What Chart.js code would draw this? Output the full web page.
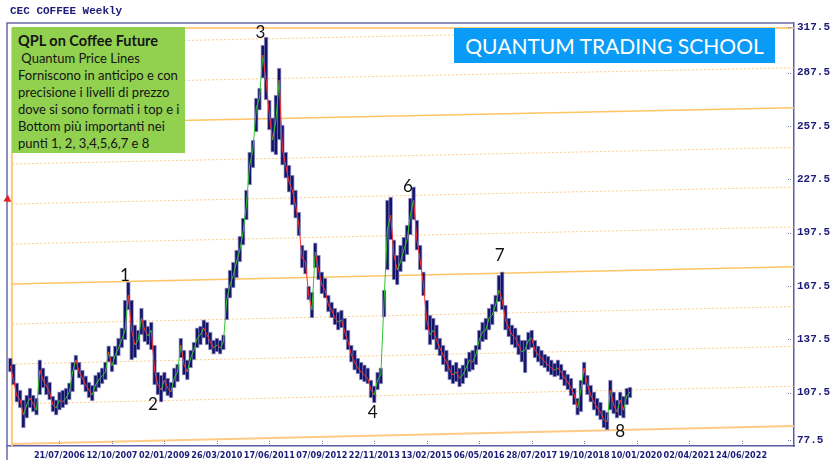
<!DOCTYPE html>
<html>
<head>
<meta charset="utf-8">
<script src="https://cdn.jsdelivr.net/npm/chart.js@4.4.1/dist/chart.umd.min.js"></script>
<style>
  html, body { margin:0; padding:0; background:#fff; }
  #wrap { position:relative; width:835px; height:465px; overflow:hidden; }
  #c { position:absolute; left:0; top:0; }
  .title { position:absolute; left:10px; top:5px; font:bold 11px "Liberation Mono", monospace; color:#1c1c78; white-space:pre; }
  .green { position:absolute; left:12px; top:27px; width:173px; height:126px; background:#92D050; box-sizing:border-box; padding:5px 0 0 6px; font:13px Lato, "Open Sans", sans-serif; line-height:17px; color:#151515; white-space:pre; }
  .green b { font-size:14.5px; }
  .blue { position:absolute; left:454px; top:28px; width:321px; height:35px; background:#0A9BF7; color:#fff; font:21px Lato, "Open Sans", sans-serif; line-height:35px; text-align:center; }
  .arrow { position:absolute; left:5px; top:196px; width:0; height:0; border-top:4px solid transparent; border-bottom:4px solid transparent; border-left:7px solid #e02020; transform:rotate(35deg); }
</style>
</head>
<body>
<div id="wrap">
  <canvas id="c" width="835" height="465"></canvas>
  <div class="title">CEC COFFEE Weekly</div>
  <div class="green"><b>QPL on Coffee Future</b>
 Quantum Price Lines
Forniscono in anticipo e con
precisione i livelli di prezzo
dove si sono formati i top e i
Bottom più importanti nei
punti 1, 2, 3,4,5,6,7 e 8</div>
  <div class="blue">QUANTUM TRADING SCHOOL</div>
  <div class="arrow"></div>
</div>
<script>
// x axis: weeks counted from 21/07/2006, tick labels every 64 weeks
const xTickLabels = ["21/07/2006","12/10/2007","02/01/2009","26/03/2010","17/06/2011","07/09/2012","22/11/2013","13/02/2015","06/05/2016","28/07/2017","19/10/2018","10/01/2020","02/04/2021","24/06/2022"];
const yTickValues = [77.5,107.5,137.5,167.5,197.5,227.5,257.5,287.5,317.5];
const firstWeek = -60;   // first bar (May 2005)
const weekStep = 4;      // one bar every 4 weeks

const closePrices = [122.5,114.6,105.6,103.4,94.9,100.6,104.5,101.1,97.7,120.2,
114.6,111.3,107.9,100.6,98.9,103.4,102.2,104.5,107.9,119.1,
125.9,119.1,115.7,111.8,109.0,106.2,111.8,114.6,116.9,119.1,
130.4,122.5,128.7,132.6,137.1,142.7,162.4,142.7,134.3,137.1,
149.5,142.7,139.4,142.7,120.2,111.8,109.0,114.6,110.1,107.9,
115.7,119.1,134.3,123.1,119.1,127.0,131.5,138.2,140.0,143.9,
140.0,136.0,132.6,134.3,132.6,136.0,159.6,168.1,173.6,181.0,
187.7,197.8,213.0,235.5,244.0,267.6,273.2,297.4,283.3,263.7,
249.6,260.8,283.3,244.0,235.5,226.0,221.5,213.0,201.8,183.2,
181.0,162.4,154.0,186.6,176.5,168.1,165.2,156.8,154.0,149.5,
147.2,148.4,141.6,136.0,128.7,124.7,121.4,119.1,117.4,115.7,
109.0,106.2,114.6,117.4,159.6,199.0,207.4,184.9,176.5,181.0,
187.7,193.4,207.4,215.8,193.4,182.1,168.1,148.4,140.0,142.7,
137.1,132.6,128.7,124.7,120.2,117.4,119.1,115.7,117.4,121.4,
125.9,124.7,128.7,137.1,141.6,142.7,149.5,151.2,156.8,165.2,
159.6,148.4,143.9,140.0,138.2,134.3,130.4,131.5,137.1,138.2,
131.5,128.7,127.0,124.7,123.1,121.4,120.2,121.4,119.1,115.7,
113.5,110.1,106.2,98.9,109.0,121.4,111.8,106.2,102.2,98.9,
96.6,92.1,91.0,109.0,100.6,96.6,103.4,97.7,105.6,107.9];

const highPrices = [127.0,123.6,113.0,109.0,103.4,106.2,110.1,106.2,104.5,125.9,
121.4,116.9,113.5,105.6,103.4,107.9,109.0,110.1,113.0,124.7,
128.7,124.7,120.2,116.9,113.5,111.8,117.4,119.1,121.4,124.7,
133.8,128.1,133.8,138.2,143.9,159.6,169.7,159.6,145.6,142.7,
155.1,148.4,145.0,147.2,134.3,119.1,117.4,119.1,115.7,113.5,
121.4,123.6,138.2,131.5,125.9,131.5,136.0,143.9,145.0,148.4,
147.2,141.6,137.1,138.2,137.1,140.0,166.4,176.5,181.0,187.7,
195.6,205.7,221.5,242.8,249.6,273.2,278.8,303.0,307.5,272.1,
262.0,274.9,290.1,258.0,242.8,235.5,229.9,221.5,209.1,190.5,
187.7,167.5,164.1,191.7,184.9,175.4,172.0,162.4,158.5,155.1,
152.9,154.0,149.5,142.7,134.3,131.5,127.0,124.7,123.1,121.4,
114.6,111.3,119.1,121.4,165.2,215.8,217.5,193.4,184.9,190.5,
195.0,201.8,217.0,223.2,204.6,190.5,175.4,159.6,151.2,149.5,
145.6,138.2,134.3,131.5,125.9,123.1,124.7,121.4,123.1,127.0,
130.4,131.5,134.3,142.7,147.2,149.5,155.1,157.4,162.4,173.6,
175.4,156.8,149.5,145.6,143.9,140.0,137.1,137.1,141.6,142.7,
137.1,133.8,131.5,129.2,128.1,125.9,124.2,125.9,123.6,120.2,
118.0,115.7,110.1,104.5,114.6,124.7,117.4,111.8,107.9,104.5,
102.2,97.7,96.6,114.6,107.9,103.4,107.9,105.6,110.1,110.7];

const lowPrices = [119.1,111.8,102.2,98.9,87.6,93.2,98.9,96.6,94.9,106.2,
110.1,106.2,103.4,96.6,94.9,97.7,98.9,100.6,103.4,107.9,
120.2,115.7,111.8,107.9,104.5,102.8,107.9,110.1,112.4,114.6,
124.7,119.1,123.1,128.1,132.6,137.1,154.0,125.9,127.0,131.5,
140.0,136.0,134.3,131.5,111.8,106.2,102.2,107.9,105.6,104.5,
110.1,113.5,127.0,117.4,114.6,121.4,125.9,132.6,134.3,138.2,
134.3,131.5,129.2,130.4,129.2,131.5,148.4,160.7,166.4,172.0,
181.0,190.5,204.6,224.3,233.9,254.1,266.4,284.4,272.1,255.2,
242.8,241.2,249.6,235.5,228.2,220.3,213.0,205.7,195.6,177.6,
174.2,159.6,149.5,177.6,170.9,163.0,160.7,152.9,149.5,145.6,
142.7,143.9,137.1,131.5,124.7,120.2,118.0,114.6,113.5,112.4,
104.5,101.7,109.0,112.4,150.0,176.5,193.4,170.9,168.1,175.4,
181.0,184.9,196.2,204.6,187.7,176.5,161.9,142.7,134.3,137.1,
131.5,128.1,123.1,119.1,114.6,112.4,113.5,110.7,112.4,115.7,
119.1,120.2,123.1,131.5,136.0,137.1,142.7,145.6,152.9,158.5,
154.0,142.7,138.8,134.3,132.6,128.7,124.7,118.6,131.5,132.6,
127.0,124.7,122.5,121.4,119.1,117.4,116.3,116.9,114.6,111.3,
109.0,105.6,100.6,94.9,96.6,111.8,106.2,102.2,97.7,94.4,
92.1,87.6,86.5,97.7,95.5,93.2,94.4,93.2,100.6,104.5];

// Quantum Price Lines: level at start week and at end week
const qplStartWeek = -58;
const qplEndWeek = 896;
const qplStart = [78.6,101.1,123.6,146.1,168.6,191.1,213.6,236.1,258.6,281.1,303.6];
const qplEnd   = [88.7,111.1,133.5,155.9,178.3,200.7,223.1,245.4,267.8,290.2,312.6];
const qplSolid = [true,false,false,false,true,false,false,false,true,false,false];
const qplTopLevel = 312.6;

// point annotations
const annLabels = ["1","2","3","4","6","7","8"];
const annWeeks  = [80,114,245,382,425,537,684];
const annPrices = [173.6,101.1,309.8,96.6,223.7,184.9,85.4];

const weeks = closePrices.map((_, i) => firstWeek + i * weekStep);
const barData = weeks.map((w, i) => ({x: w, y: [lowPrices[i], highPrices[i]]}));
const closeData = weeks.map((w, i) => ({x: w, y: closePrices[i]}));

const datasets = [];
qplStart.forEach((s, k) => {
  datasets.push({
    type: 'line',
    data: [{x: qplStartWeek, y: s}, {x: qplEndWeek, y: qplEnd[k]}],
    borderColor: k === 0 ? 'rgba(255,196,120,0.9)' : (qplSolid[k] ? '#FFC466' : 'rgba(255,196,120,0.9)'),
    borderWidth: k === 0 ? 2 : (qplSolid[k] ? 1.5 : 1),
    borderDash: qplSolid[k] ? [] : [2, 2],
    pointRadius: 0, order: 10
  });
});
datasets.push({
  type: 'line',
  data: [{x: qplStartWeek, y: qplTopLevel}, {x: qplEndWeek, y: qplTopLevel}],
  borderColor: '#FFBF55', borderWidth: 1.5, pointRadius: 0, order: 10
});
datasets.push({
  type: 'line',
  data: [{x: qplStartWeek, y: 77.5}, {x: qplStartWeek, y: qplTopLevel}],
  borderColor: '#FFCB7A', borderWidth: 2, pointRadius: 0, order: 10
});
datasets.push({
  type: 'bar',
  data: barData,
  backgroundColor: '#14146a',
  borderColor: 'rgba(100,100,170,0.6)',
  borderWidth: 1,
  borderSkipped: false,
  barThickness: 4,
  order: 2
});
datasets.push({
  type: 'line',
  data: closeData,
  borderWidth: 1,
  pointRadius: 0,
  segment: {
    borderColor: ctx => ctx.p1.parsed.y >= ctx.p0.parsed.y ? '#2ec52e' : '#ff3030'
  },
  order: 1
});

const framePlugin = {
  id: 'frame',
  afterDraw(chart) {
    const {ctx, chartArea: a, scales} = chart;
    ctx.save();
    ctx.strokeStyle = '#6a6aa6';
    ctx.lineWidth = 1.5;
    ctx.beginPath();
    ctx.moveTo(a.left, a.bottom + 14);
    ctx.lineTo(a.left, a.top);
    ctx.lineTo(a.right, a.top);
    ctx.stroke();
    // small dotted tick marks inside the frame
    ctx.fillStyle = '#7a7ab0';
    scales.x.ticks.forEach(t => {
      const px = Math.round(scales.x.getPixelForValue(t.value));
      ctx.fillRect(px, a.bottom - 5, 1, 1);
      ctx.fillRect(px, a.bottom - 3, 1, 1);
    });
    scales.y.ticks.forEach(t => {
      const py = Math.round(scales.y.getPixelForValue(t.value));
      ctx.fillRect(a.right - 6, py, 1, 1);
      ctx.fillRect(a.right - 4, py, 1, 1);
    });
    ctx.restore();
  }
};

const annPlugin = {
  id: 'ann',
  afterDatasetsDraw(chart) {
    const {ctx, scales} = chart;
    ctx.save();
    ctx.fillStyle = '#111';
    ctx.font = '17px Lato, "Open Sans", sans-serif';
    ctx.textAlign = 'center';
    ctx.textBaseline = 'middle';
    annLabels.forEach((t, i) => {
      ctx.fillText(t, scales.x.getPixelForValue(annWeeks[i]), scales.y.getPixelForValue(annPrices[i]));
    });
    ctx.restore();
  }
};

new Chart(document.getElementById('c'), {
  data: {datasets},
  options: {
    responsive: false,
    animation: false,
    devicePixelRatio: 1,
    layout: {padding: {left: 7, top: 23, right: 0, bottom: 0}},
    plugins: {legend: {display: false}, tooltip: {enabled: false}},
    scales: {
      x: {
        type: 'linear',
        offset: false,
        min: -64, max: 896,
        grid: {display: false, drawTicks: false, offset: false},
        border: {color: '#5c5ca6', width: 1.5},
        afterBuildTicks: s => { s.ticks = xTickLabels.map((_, i) => ({value: i * 64})); },
        ticks: {
          autoSkip: false, maxRotation: 0, padding: 4,
          color: '#1c1c78',
          font: {family: '"DejaVu Sans Condensed", "Liberation Sans Narrow", sans-serif', size: 9, weight: 'bold'},
          callback: (v, i) => xTickLabels[i]
        },
        afterFit: s => { s.height = 19; }
      },
      y: {
        type: 'linear',
        position: 'right',
        min: 77.5, max: 315.4,
        grid: {display: false, drawTicks: false},
        border: {color: '#5c5ca6', width: 1.5},
        afterBuildTicks: s => {
          s.ticks = yTickValues.map(v => ({value: Math.max(s.min + 3.4, Math.min(s.max - 2.3, v))}));
        },
        ticks: {
          padding: 3,
          color: '#1c1c78',
          font: {family: '"Liberation Mono", monospace', size: 11, weight: 'bold'},
          callback: (v, i) => yTickValues[i].toFixed(1)
        },
        afterFit: s => { s.width = 41; }
      }
    }
  },
  plugins: [framePlugin, annPlugin]
});
</script>
</body>
</html>
